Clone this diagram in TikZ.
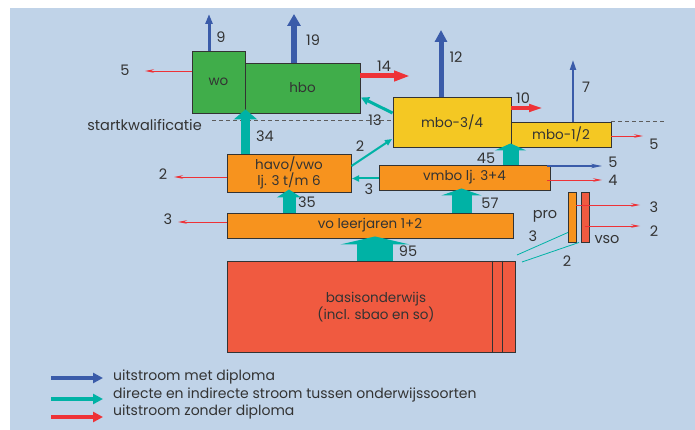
\documentclass[tikz,border=0pt]{standalone}
\usepackage{fontspec}
\setmainfont{Poppins}
\usetikzlibrary{arrows.meta}
\definecolor{bg}{HTML}{C0D3E8}
\definecolor{cblue}{HTML}{3A5BA9}
\definecolor{cteal}{HTML}{00B2A5}
\definecolor{cred}{HTML}{EE3237}
\definecolor{cgreen}{HTML}{40AD4A}
\definecolor{corange}{HTML}{F7931E}
\definecolor{cyellow}{HTML}{F4C823}
\definecolor{cbasis}{HTML}{F05A40}
\definecolor{ctext}{HTML}{333333}
\begin{document}
\begin{tikzpicture}[x=1pt,y=-1pt,
  box/.style={draw=ctext,line width=0.9pt,inner sep=0pt,text=ctext,align=center,
    font=\fontsize{13.5}{16}\selectfont},
  lab/.style={text=ctext,inner sep=0pt,font=\fontsize{14.5}{16}\selectfont},
  leg/.style={text=ctext,inner sep=0pt,anchor=west,font=\fontsize{14}{15}\selectfont},
  thinred/.style={draw=cred,line width=0.7pt,-{Stealth[length=9pt,width=3.5pt]}},
  dashline/.style={draw=ctext!80,line width=0.9pt,dash pattern=on 4pt off 3pt}
]
\useasboundingbox (0,0) rectangle (695,430);
\fill[white] (0,0) rectangle (695,430);
\fill[bg] (10,8) rectangle (695,430);

% dashed startkwalificatie lines
\coordinate (d1) at (212,120);
\coordinate (d2) at (393,120);
\coordinate (d3) at (611,121.5);
\coordinate (d4) at (665,121.5);
\draw[dashline] (d1) -- (d2);
\draw[dashline] (d3) -- (d4);
\node[lab,anchor=east,font=\fontsize{14.5}{16}\selectfont] (sk) at (202,125) {startkwalificatie};

% boxes
\node[box,fill=cgreen,minimum width=53,minimum height=62] (wo) at (218.5,82) {wo};
\node[box,fill=cgreen,minimum width=115,minimum height=50] (hbo) at (302.5,88) {hbo};
\node[box,fill=cyellow,minimum width=118,minimum height=50] (mbo34) at (452,122) {mbo-3/4};
\node[box,fill=cyellow,minimum width=100,minimum height=25] (mbo12) at (561,134.5) {mbo-1/2};
\node[box,fill=corange,minimum width=171,minimum height=25] (vmbo) at (464.5,177.5) {vmbo lj. 3+4};
\node[box,fill=corange,minimum width=124,minimum height=38,font=\fontsize{13.5}{15}\selectfont] (havo) at (289,173) {havo/vwo\\lj. 3 t/m 6};
\node[box,fill=corange,minimum width=286,minimum height=25] (vo) at (370,225.5) {vo leerjaren 1+2};
\node[box,fill=cbasis,minimum width=288,minimum height=91] (basis) at (371,306.5) {};
\node[box,draw=none,fill=none] (basistext) at (376,307) {basisonderwijs\\(incl. sbao en so)};
\draw[ctext,line width=0.9pt] ([xshift=266]basis.north west) -- ([xshift=266]basis.south west);
\draw[ctext,line width=0.9pt] ([xshift=276]basis.north west) -- ([xshift=276]basis.south west);
\node[box,fill=corange,minimum width=8,minimum height=50] (pro) at (572,217) {};
\node[box,fill=cbasis,minimum width=8,minimum height=50] (vso) at (585,217) {};
\node[lab] (lpro) at (545,216) {pro};
\node[lab] (lvso) at (607,240) {vso};

% blue outflows (with diploma)
\coordinate (e9) at (209,14);
\coordinate (e19) at (294,14);
\coordinate (e12) at (441,30);
\coordinate (e7) at (573,60);
\draw[cblue,line width=3pt,-{Triangle[length=10pt,width=7pt]}] (wo.north -| e9) -- (e9);
\draw[cblue,line width=6pt,-{Triangle[length=12pt,width=13pt]}] (hbo.north -| e19) -- (e19);
\draw[cblue,line width=5pt,-{Triangle[length=12pt,width=12pt]}] (mbo34.north -| e12) -- (e12);
\draw[cblue,line width=2pt,-{Triangle[length=10pt,width=6pt]}] (mbo12.north -| e7) -- (e7);
\coordinate (e5v) at (602,166);
\draw[cblue,line width=1.4pt,-{Stealth[length=11pt,width=4.5pt]}] ([xshift=-3]vmbo.east |- e5v) -- (e5v);

% red outflows (without diploma)
\coordinate (e14) at (410,76);
\coordinate (e10) at (544,108);
\draw[cred,line width=5pt,-{Triangle[length=16pt,width=10pt]}] (hbo.east |- e14) -- (e14);
\draw[cred,line width=4pt,-{Triangle[length=15pt,width=7pt]}] (mbo34.east |- e10) -- (e10);
\coordinate (e5w) at (145,71);
\draw[thinred] (wo.west |- e5w) -- (e5w);
\coordinate (e5m) at (643,136);
\draw[thinred] (mbo12.east |- e5m) -- (e5m);
\coordinate (e4) at (602,180);
\draw[thinred] ([xshift=-3]vmbo.east |- e4) -- (e4);
\coordinate (e2h) at (174,177);
\draw[thinred] (havo.west |- e2h) -- (e2h);
\coordinate (e3v) at (178,222);
\draw[thinred] (vo.west |- e3v) -- (e3v);
\coordinate (e3p) at (640,205);
\draw[thinred] (pro.east |- e3p) -- (e3p);
\coordinate (e2s) at (640,226);
\draw[thinred] ([xshift=-4]vso.east |- e2s) -- (e2s);

% teal flows (yshift is in canvas direction: positive = up)
\draw[cteal,line width=9pt,-{Triangle[length=10pt,width=23pt]}] (havo.north -| 245.5,0) -- ([yshift=4]wo.south -| 245.5,0);
\draw[cteal,line width=13pt,-{Triangle[length=8pt,width=24pt]}] (vo.north -| havo.south) -- ([yshift=3]havo.south);
\draw[cteal,line width=20pt,-{Triangle[length=7pt,width=40pt]}] (vo.north -| 461.5,0) -- ([yshift=2]vmbo.south -| 461.5,0);
\draw[cteal,line width=16pt,-{Triangle[length=7pt,width=31pt]}] (vmbo.north -| 510.5,0) -- ([yshift=4]mbo34.south -| 510.5,0);
\draw[cteal,line width=36pt,-{Triangle[length=8pt,width=69pt]}] (basis.north -| 375,0) -- ([yshift=2]vo.south -| 375,0);
\draw[cteal,line width=3pt,-{Triangle[length=8pt,width=8pt]}] (mbo34.west |- 0,113) -- (361,97.5);
\draw[cteal,line width=2pt,-{Triangle[length=7pt,width=6pt]}] (havo.east |- 0,166) -- (392,139);
\draw[cteal,line width=2pt,-{Triangle[length=7pt,width=6pt]}] (vmbo.west |- 0,178.5) -- (352,178.5);
\draw[cteal,line width=0.8pt] (517,255) -- ([xshift=-4,yshift=10]pro.south);
\draw[cteal,line width=0.8pt] (522,262) -- ([xshift=-6]vso.south);

% labels
\node[lab] (l9) at (221,37) {9};
\node[lab] (l19) at (313,40) {19};
\node[lab] (l14) at (384,66) {14};
\node[lab] (l5w) at (125,70) {5};
\node[lab] (l13) at (375,120) {13};
\node[lab] (l34) at (265,136) {34};
\node[lab] (l12) at (456,57) {12};
\node[lab] (l10) at (523,98) {10};
\node[lab] (l7) at (586,87) {7};
\node[lab] (l5m) at (654,144) {5};
\node[lab] (l45) at (486,158) {45};
\node[lab] (l5v) at (613,162) {5};
\node[lab] (l4) at (613,180) {4};
\node[lab] (l2t) at (360,146) {2};
\node[lab] (l3t) at (369,189) {3};
\node[lab] (l2h) at (163,174) {2};
\node[lab] (l35) at (307,202) {35};
\node[lab] (l3v) at (168,219) {3};
\node[lab] (l57) at (490,203) {57};
\node[lab] (l95) at (408,251) {95};
\node[lab] (l3p) at (654,207) {3};
\node[lab] (l2s) at (654,231) {2};
\node[lab] (l3q) at (533,236) {3};
\node[lab] (l2q) at (567,261) {2};

% legend
\coordinate (a1) at (51,378);
\coordinate (b1) at (103,378);
\coordinate (a2) at (51,399);
\coordinate (b2) at (103,399);
\coordinate (a3) at (51,417);
\coordinate (b3) at (103,417);
\draw[cblue,line width=4pt,-{Triangle[length=10pt,width=10pt]}] (a1) -- (b1);
\draw[cteal,line width=4pt,-{Triangle[length=10pt,width=10pt]}] (a2) -- (b2);
\draw[cred,line width=4pt,-{Triangle[length=10pt,width=10pt]}] (a3) -- (b3);
\node[leg] (t1) at (113,377) {uitstroom met diploma};
\node[leg] (t2) at (113,394.5) {directe en indirecte stroom tussen onderwijssoorten};
\node[leg] (t3) at (113,412) {uitstroom zonder diploma};
\end{tikzpicture}
\end{document}
